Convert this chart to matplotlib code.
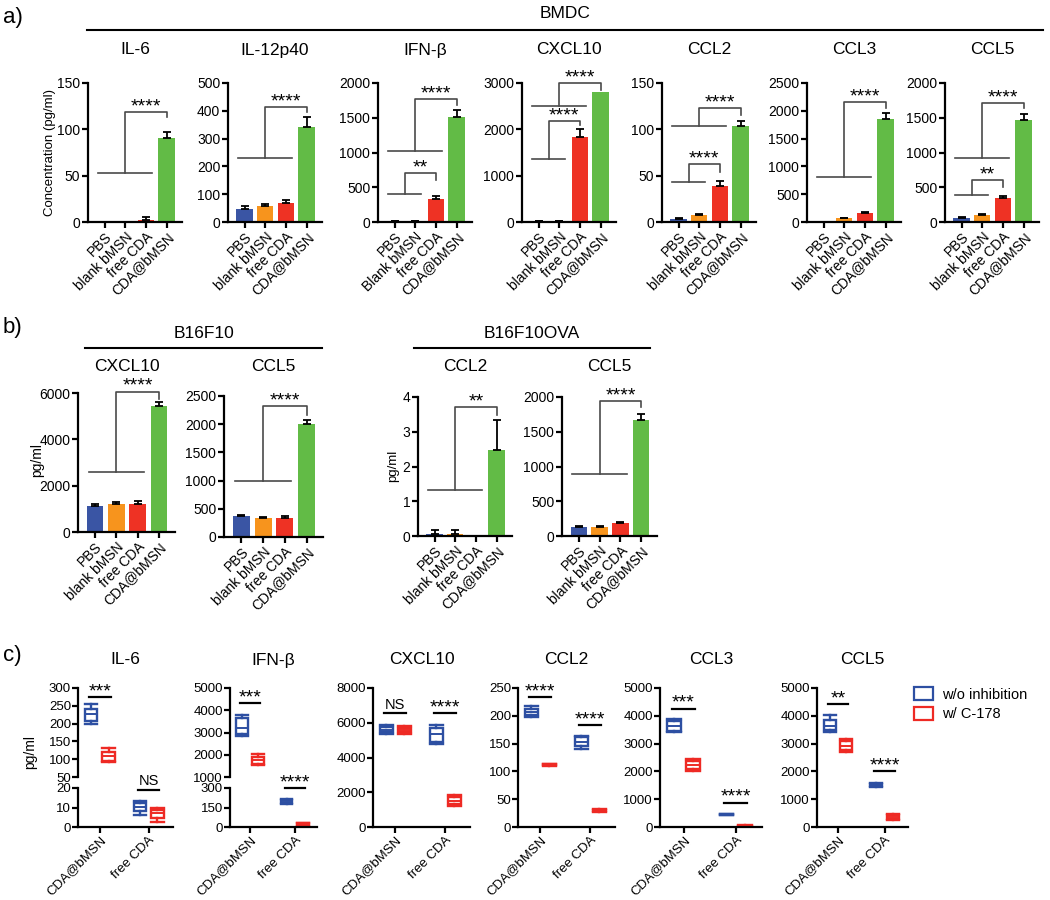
import matplotlib.pyplot as plt
import numpy as np
from matplotlib.lines import Line2D
from matplotlib.patches import Patch

plt.rcParams['font.family'] = ['Liberation Sans', 'DejaVu Sans']

W, H = 1050, 900

# ---- a) BMDC ----
groups = ['PBS', 'blank bMSN', 'free CDA', 'CDA@bMSN']
groups_ifn = ['PBS', 'Blank bMSN', 'free CDA', 'CDA@bMSN']
a_titles = ['IL-6', 'IL-12p40', 'IFN-β', 'CXCL10', 'CCL2', 'CCL3', 'CCL5']
a_means = [[0, 0.5, 2, 91], [48, 58, 68, 340], [8, 8, 330, 1510],
           [20, 20, 1830, 2800], [3, 8, 39, 104], [5, 70, 160, 1860],
           [62, 100, 342, 1468]]
a_errs = [[0, 0, 3.5, 6], [8, 6, 12, 38], [5, 5, 50, 105], [10, 10, 180, 0],
          [1, 1, 5, 5], [2, 10, 20, 105], [10, 8, 36, 85]]
a_ymax = [150, 500, 2000, 3000, 150, 2500, 2000]
a_ystep = [50, 100, 500, 1000, 50, 500, 500]
# (last bar of reference group, group line y, top y, end y, compared bar, label)
a_brackets = [
    [(2, 53, 119, 113, 3, '****')],
    [(2, 230, 414, 396, 3, '****')],
    [(1, 398, 709, 604, 2, '**'), (2, 1021, 1765, 1683, 3, '****')],
    [(1, 1360, 2180, 2090, 2, '****'), (2, 2503, 3006, 2850, 3, '****')],
    [(1, 43.5, 62.6, 54, 2, '****'), (2, 104, 122.7, 115.5, 3, '****')],
    [(2, 815, 2153, 2045, 3, '****')],
    [(1, 388, 604, 508, 2, '**'), (2, 916, 1716, 1636, 3, '****')],
]

# ---- b) B16F10 / B16F10OVA ----
b_titles = ['CXCL10', 'CCL5', 'CCL2', 'CCL5']
b_means = [[1110, 1230, 1230, 5420], [370, 335, 340, 2010],
           [0.07, 0.07, 0, 2.48], [134, 134, 182, 1667]]
b_errs = [[120, 70, 115, 190], [20, 15, 35, 70], [0.1, 0.1, 0, 0.85],
          [10, 7, 15, 86]]
b_ymax = [6000, 2500, 4, 2000]
b_ystep = [2000, 500, 1, 500]
b_brackets = [[(2, 2600, 6060, 5750, 3, '****')],
              [(2, 1000, 2320, 2170, 3, '****')],
              [(2, 1.32, 3.70, 3.48, 3, '**')],
              [(2, 886, 1940, 1850, 3, '****')]]

# ---- c) box plots, (min, q1, median, q3, max) for [CDA@bMSN, free CDA] ----
c_groups = ['CDA@bMSN', 'free CDA']
c_titles = ['IL-6', 'IFN-β', 'CXCL10', 'CCL2', 'CCL3', 'CCL5']
c_blue = [
    [(200, 208, 226, 242, 254), (6.4, 8.3, 10.4, 12.5, 13.5)],
    [(2860, 2920, 3200, 3650, 3780), (180, 185, 195, 205, 215)],
    [(5350, 5470, 5600, 5750, 5850), (4800, 4900, 5380, 5720, 5850)],
    [(198, 201, 207, 213, 217), (140, 145, 153, 161, 164)],
    [(3420, 3460, 3620, 3810, 3870), (420, 440, 455, 470, 480)],
    [(3400, 3480, 3620, 3860, 4020), (1450, 1480, 1520, 1560, 1590)],
]
c_red = [
    [(93, 96, 108, 120, 132), (2.6, 4.4, 7.0, 8.7, 10)],
    [(1560, 1600, 1760, 1900, 2050), (10, 15, 22, 28, 33)],
    [(5350, 5440, 5580, 5720, 5820), (1210, 1350, 1500, 1730, 1830)],
    [(110, 111, 112, 113, 114), (27, 28, 29, 31, 32)],
    [(2000, 2100, 2240, 2370, 2430), (20, 30, 40, 50, 60)],
    [(2680, 2760, 2900, 3090, 3180), (250, 290, 360, 420, 470)],
]
c_sig = [
    [(0, 275, '***'), (1, 19.2, 'NS')],
    [(0, 4320, '***'), (1, 300, '****')],
    [(0, 6560, 'NS'), (1, 6560, '****')],
    [(0, 234, '****'), (1, 183, '****')],
    [(0, 4260, '***'), (1, 880, '****')],
    [(0, 4410, '**'), (1, 2000, '****')],
]
# broken axes: (top lo, top hi, top step), (bottom lo, bottom hi, bottom step); else (0, max, step)
c_scales = [((50, 300, 50), (0, 20, 10)), ((1000, 5000, 1000), (0, 300, 150)),
            (0, 8000, 2000), (0, 250, 50), (0, 5000, 1000), (0, 5000, 1000)]

bar_colors = ['#3A55A4', '#F7941D', '#EE3224', '#62BB46']
blue, red = '#2D4FA2', '#EE2A24'

fig = plt.figure(figsize=(10.5, 9), dpi=100)


def px_axes(left, top, right, bottom):
    return fig.add_axes([left / W, 1 - bottom / H, (right - left) / W, (bottom - top) / H])


def style(ax, bottom=True):
    ax.spines['top'].set_visible(False)
    ax.spines['right'].set_visible(False)
    ax.spines['left'].set_linewidth(1.6)
    ax.spines['bottom'].set_linewidth(1.6)
    if not bottom:
        ax.spines['bottom'].set_visible(False)
        ax.tick_params(axis='x', bottom=False, labelbottom=False)
    ax.tick_params(width=1.6, length=4, labelsize=10, pad=1.5)


def ftext(x, y, s, **kw):
    fig.text(x / W, 1 - y / H, s, **kw)


def fline(x0, x1, y):
    fig.add_artist(Line2D([x0 / W, x1 / W], [1 - y / H, 1 - y / H], color='black', lw=1.5))


def stars(ax, x, y, label):
    if label == 'NS':
        ax.annotate(label, xy=(x, y), xytext=(0, 1), textcoords='offset points',
                    ha='center', va='bottom', fontsize=10.5, annotation_clip=False)
    else:
        ax.annotate(label, xy=(x, y), xytext=(0, 0.5), textcoords='offset points',
                    ha='center', va='baseline', fontsize=14, annotation_clip=False)


def bar_chart(ax, means, errs, labels, ymax, ystep, brackets):
    x = np.arange(4)
    ax.bar(x, means, width=0.78, color=bar_colors)
    errs = np.array(errs, dtype=float)
    m = errs > 0
    ax.errorbar(x[m], np.array(means)[m], yerr=[np.zeros(m.sum()), errs[m]], fmt='none',
                ecolor='black', elinewidth=1.3, capsize=3, capthick=1.3)
    ax.set_xlim(-0.8, 3.75)
    ax.set_ylim(0, ymax)
    ax.set_yticks(np.arange(0, ymax + ystep / 2, ystep))
    ax.set_xticks(x)
    ax.set_xticklabels(labels, rotation=45, ha='right', rotation_mode='anchor', fontsize=10)
    style(ax)
    for hi, base, top, end, target, label in brackets:
        mid = hi / 2
        kw = dict(color='#4a4a4a', lw=1.2, clip_on=False)
        ax.plot([-0.3, hi + 0.3], [base, base], **kw)
        ax.plot([mid, mid, target, target], [base, top, top, end], **kw)
        stars(ax, (mid + target) / 2, top, label)


# ---------------- panel a ----------------
ftext(3, 17, 'a)', fontsize=16, va='center')
ftext(565, 14, 'BMDC', fontsize=12.5, ha='center', va='center')
fline(87, 1043, 30)
a_left = [88, 228, 378, 522, 662, 807, 945]
for i in range(7):
    ax = px_axes(a_left[i], 83, a_left[i] + 94, 222)
    labels = groups_ifn if a_titles[i] == 'IFN-β' else groups
    bar_chart(ax, a_means[i], a_errs[i], labels, a_ymax[i], a_ystep[i], a_brackets[i])
    ftext(a_left[i] + 47, 50, a_titles[i], fontsize=12.5, ha='center', va='center')
ftext(50, 152, 'Concentration (pg/ml)', fontsize=9.5, rotation=90, ha='center', va='center')

# ---------------- panel b ----------------
ftext(3, 328, 'b)', fontsize=16, va='center')
ftext(204, 334, 'B16F10', fontsize=12.5, ha='center', va='center')
ftext(532, 334, 'B16F10OVA', fontsize=12.5, ha='center', va='center')
fline(85, 322, 348)
fline(414, 650, 348)
b_rects = [(78, 393, 175, 532), (224, 396, 323, 537), (418, 397, 512, 536), (562, 397, 657, 536)]
for i in range(4):
    l, t, r, bt = b_rects[i]
    ax = px_axes(l, t, r, bt)
    bar_chart(ax, b_means[i], b_errs[i], groups, b_ymax[i], b_ystep[i], b_brackets[i])
    ftext((l + r) / 2, 366, b_titles[i], fontsize=12.5, ha='center', va='center')
ftext(37, 460, 'pg/ml', fontsize=10, rotation=90, ha='center', va='center')
ftext(393, 466, 'pg/ml', fontsize=9.5, rotation=90, ha='center', va='center')

# ---------------- panel c ----------------
ftext(3, 655, 'c)', fontsize=16, va='center')
c_left = [78, 230, 373, 518, 660, 817]
c_right = [173, 317, 470, 615, 762, 908]
for i in range(6):
    l, r = c_left[i], c_right[i]
    sc = c_scales[i]
    if isinstance(sc[0], tuple):
        ax_top = px_axes(l, 688, r, 777)
        ax_bot = px_axes(l, 788, r, 827)
        (tlo, thi, tst), (blo, bhi, bst) = sc
        ax_top.set_ylim(tlo, thi)
        ax_top.set_yticks(np.arange(tlo, thi + tst / 2, tst))
        ax_bot.set_ylim(blo, bhi)
        ax_bot.set_yticks(np.arange(blo, bhi + bst / 2, bst))
        style(ax_top, bottom=False)
        axes = [ax_top, ax_bot]
    else:
        ax_bot = px_axes(l, 688, r, 827)
        lo, hi, st = sc
        ax_bot.set_ylim(lo, hi)
        ax_bot.set_yticks(np.arange(lo, hi + st / 2, st))
        axes = [ax_bot]
    style(ax_bot)
    for ax in axes:
        ax.tick_params(labelsize=9.5, pad=1)
        for five, off, col in [(c_blue[i], -0.18, blue), (c_red[i], 0.18, red)]:
            st5 = [dict(whislo=s[0], q1=s[1], med=s[2], q3=s[3], whishi=s[4]) for s in five]
            ax.bxp(st5, positions=np.arange(2) + off, widths=0.26, capwidths=0.26,
                   showfliers=False, patch_artist=True,
                   boxprops=dict(facecolor='white', edgecolor=col, lw=1.7),
                   medianprops=dict(color=col, lw=1.4),
                   whiskerprops=dict(color=col, lw=1.7),
                   capprops=dict(color=col, lw=1.7))
        ax.set_xlim(-0.45, 1.5)
    ax_bot.set_xticks([0, 1])
    ax_bot.set_xticklabels(c_groups, rotation=45, ha='right', rotation_mode='anchor', fontsize=9.5)
    for g, y, label in c_sig[i]:
        target = axes[0]
        for ax in axes:
            lo, hi = ax.get_ylim()
            if lo <= y <= hi * 1.05:
                target = ax
        target.plot([g - 0.22, g + 0.22], [y, y], color='black', lw=1.6, clip_on=False)
        stars(target, g, y, label)
    ftext((l + r) / 2, 660, c_titles[i], fontsize=12.5, ha='center', va='center')
ftext(30, 752, 'pg/ml', fontsize=10, rotation=90, ha='center', va='center')

fig.legend(handles=[Patch(facecolor='white', edgecolor=blue, lw=1.6, label='w/o inhibition'),
                    Patch(facecolor='white', edgecolor=red, lw=1.6, label='w/ C-178')],
           loc='upper left', bbox_to_anchor=(914 / W, 1 - 687 / H), frameon=False,
           fontsize=10.5, handlelength=1.3, handleheight=1.0, handletextpad=0.6,
           labelspacing=0.35, borderaxespad=0, borderpad=0)

fig.savefig('out.png', dpi=100)
